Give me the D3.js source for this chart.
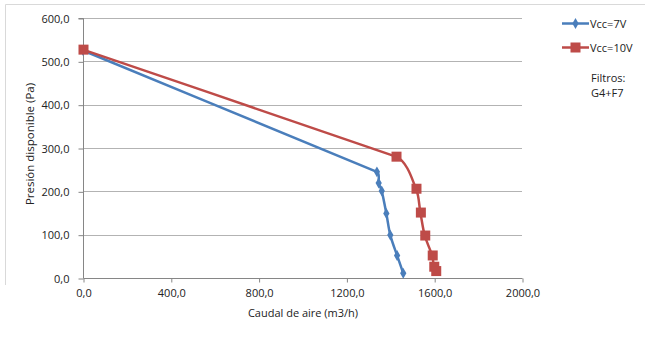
<!DOCTYPE html>
<html><head><meta charset="utf-8">
<script src="https://cdn.jsdelivr.net/npm/d3@7"></script>
<style>
html,body{margin:0;padding:0;background:#fff;}
svg{display:block;font-family:"Open Sans","Noto Sans",sans-serif;}
</style></head>
<body>
<svg id="c" width="645" height="338"></svg>
<script>
const xTicks = [0, 400, 800, 1200, 1600, 2000];
const yTicks = [0, 100, 200, 300, 400, 500, 600];
const seriesNames = ["Vcc=7V", "Vcc=10V"];
const blueX = [0, 1339, 1347, 1361, 1382, 1400, 1431, 1459];
const blueY = [525, 245, 219, 201, 149, 99, 52, 11];
const redX = [0, 1426, 1517, 1537, 1557, 1591, 1598, 1607];
const redY = [527, 280, 206, 151, 98, 52, 26, 16];
const noteLines = ["Filtros:", "G4+F7"];
const xTitle = "Caudal de aire (m3/h)";
const yTitle = "Presión disponible (Pa)";

const svg = d3.select("#c");
const x = d3.scaleLinear().domain([0, 2000]).range([83, 522]);
const y = d3.scaleLinear().domain([0, 600]).range([278, 18]);
const fmt = d => d3.format(".1f")(d).replace(".", ",");

// outer chart frame (cropped)
svg.append("path").attr("d", "M5.5,285 V4.5 H645").attr("fill", "none").attr("stroke", "#d9d9d9").attr("stroke-width", 1);

// gridlines
svg.append("g").selectAll("line").data(yTicks.filter(d => d > 0)).join("line")
  .attr("x1", x(0)).attr("x2", x(2000))
  .attr("y1", d => Math.round(y(d)) + 0.5).attr("y2", d => Math.round(y(d)) + 0.5)
  .attr("stroke", "#b3b3b3").attr("stroke-width", 1);

// axes
const yAxis = d3.axisLeft(y).tickValues(yTicks).tickFormat(fmt).tickSize(5).tickPadding(9);
const xAxis = d3.axisBottom(x).tickValues(xTicks).tickFormat(fmt).tickSize(4).tickPadding(7);
const gy = svg.append("g").attr("transform", `translate(${x(0)+0.5},0.5)`).call(yAxis);
const gx = svg.append("g").attr("transform", `translate(0.5,${y(0)+0.5})`).call(xAxis);
[gx, gy].forEach(g => {
  g.select(".domain").attr("stroke", "#868686");
  g.selectAll(".tick line").attr("stroke", "#868686");
  g.selectAll(".tick text").attr("fill", "#222").style("font-size", "11px").style("font-family", "'Open Sans','Noto Sans',sans-serif");
});
gy.select(".domain").attr("d", `M-5,${y(600)}H0V${y(0)}`);
gx.select(".domain").attr("d", `M${x(0)},0V0H${x(2000)}V0`);

// titles
svg.append("text").attr("x", 303).attr("y", 317).attr("text-anchor", "middle")
  .style("font-size", "11px").attr("fill", "#222").text(xTitle);
svg.append("text").attr("transform", "translate(34,144) rotate(-90)").attr("text-anchor", "middle")
  .style("font-size", "11.5px").attr("fill", "#222").text(yTitle);

const blue = "#4a7ebb", red = "#be4b48";
const blueData = blueX.map((v, i) => [v, blueY[i]]);
const redData = redX.map((v, i) => [v, redY[i]]);

// smoothed line (Excel-like): tangent along neighbours, handle limited by adjacent segment length
function smooth(data) {
  const pts = data.map(d => [x(d[0]), y(d[1])]);
  const len = (a, b) => Math.hypot(b[0] - a[0], b[1] - a[1]);
  const p = d3.path();
  p.moveTo(pts[0][0], pts[0][1]);
  const n = pts.length;
  for (let i = 0; i < n - 1; i++) {
    const P0 = pts[i - 1] || pts[i], P1 = pts[i], P2 = pts[i + 1], P3 = pts[i + 2] || pts[i + 1];
    const Lc = len(P1, P2);
    const La = (i > 0 ? Math.min(Lc, len(P0, P1)) : Lc) / 3;
    const Lb = (i < n - 2 ? Math.min(Lc, len(P2, P3)) : Lc) / 3;
    const t1 = [P2[0] - P0[0], P2[1] - P0[1]], l1 = Math.hypot(...t1);
    const t2 = [P3[0] - P1[0], P3[1] - P1[1]], l2 = Math.hypot(...t2);
    p.bezierCurveTo(P1[0] + t1[0] / l1 * La, P1[1] + t1[1] / l1 * La,
                    P2[0] - t2[0] / l2 * Lb, P2[1] - t2[1] / l2 * Lb, P2[0], P2[1]);
  }
  return p.toString();
}

svg.append("path").attr("d", smooth(blueData)).attr("fill", "none").attr("stroke", blue).attr("stroke-width", 2.5).attr("stroke-linejoin", "round");
svg.append("path").attr("d", smooth(redData)).attr("fill", "none").attr("stroke", red).attr("stroke-width", 2.5).attr("stroke-linejoin", "round");

const diamond = d3.symbol().type(d3.symbolDiamond).size(34);
svg.append("g").selectAll("path").data(blueData).join("path")
  .attr("transform", d => `translate(${x(d[0])},${y(d[1])})`).attr("d", diamond).attr("fill", blue);
svg.append("g").selectAll("rect").data(redData).join("rect")
  .attr("x", d => x(d[0]) - 4.5).attr("y", d => y(d[1]) - 5).attr("width", 10).attr("height", 10).attr("fill", red);

// legend
const lg = svg.append("g");
const legY = [23.5, 47.5];
const legCol = [blue, red];
seriesNames.forEach((n, i) => {
  lg.append("line").attr("x1", 562).attr("x2", 589).attr("y1", legY[i]).attr("y2", legY[i]).attr("stroke", legCol[i]).attr("stroke-width", 2.5);
  if (i === 0) lg.append("path").attr("transform", `translate(575.5,${legY[i]})`).attr("d", diamond).attr("fill", blue);
  else lg.append("rect").attr("x", 570.5).attr("y", legY[i] - 5).attr("width", 10).attr("height", 10).attr("fill", red);
  lg.append("text").attr("x", 590).attr("y", legY[i] + 4).style("font-size", "11px").attr("fill", "#222").text(n);
});
noteLines.forEach((t, i) => {
  svg.append("text").attr("x", 591).attr("y", 82 + i * 15).style("font-size", "11px").attr("fill", "#222").text(t);
});
</script>
</body></html>
